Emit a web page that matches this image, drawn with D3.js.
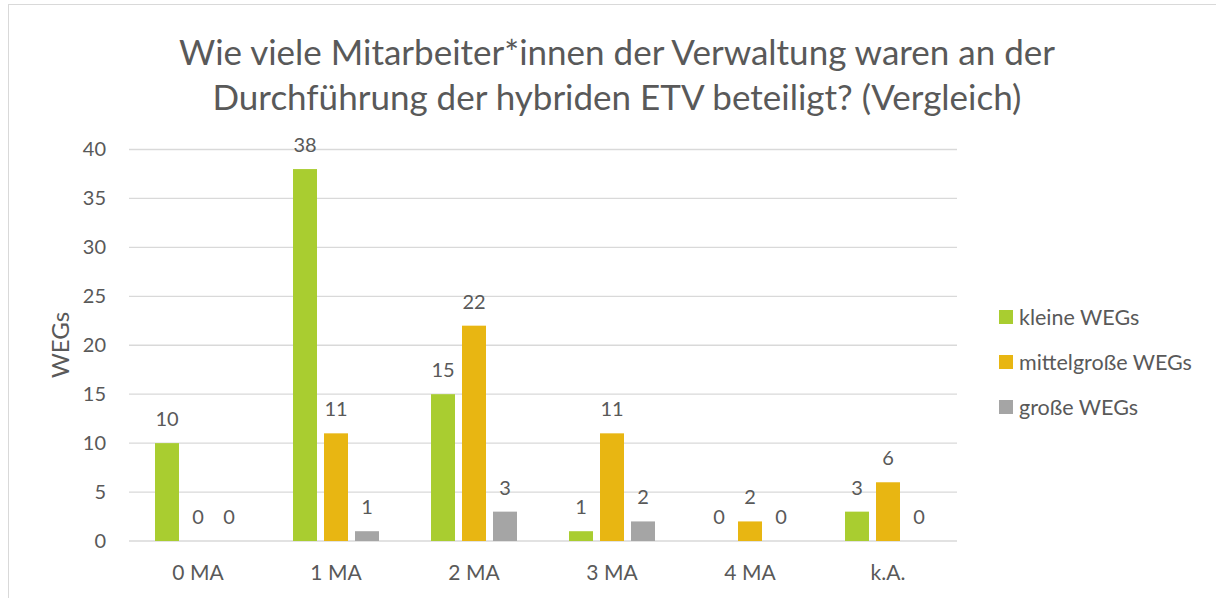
<!DOCTYPE html>
<html>
<head>
<meta charset="utf-8">
<script src="https://cdn.jsdelivr.net/npm/d3@7"></script>
<style>
  body { margin: 0; background: #fff; }
  text { font-family: Lato, "Open Sans", sans-serif; fill: #595959; }
</style>
</head>
<body>
<div id="chart"></div>
<script>
// chart data
var categories = ["0 MA", "1 MA", "2 MA", "3 MA", "4 MA", "k.A."];
var seriesNames = ["kleine WEGs", "mittelgroße WEGs", "große WEGs"];
var kleine = [10, 38, 15, 1, 0, 3];
var mittel = [0, 11, 22, 11, 2, 6];
var grosse = [0, 1, 3, 2, 0, 0];
var yTicks = [0, 5, 10, 15, 20, 25, 30, 35, 40];
var colors = ["#a9cd30", "#e8b612", "#a5a5a5"];

var svgWidth = 1216;
var svgHeight = 598;

// plot area
var chartMargin = { top: 149.5, right: 259, bottom: 57, left: 129 };
var chartWidth = svgWidth - chartMargin.left - chartMargin.right;
var chartHeight = svgHeight - chartMargin.top - chartMargin.bottom;

var svg = d3.select("#chart")
  .append("svg")
  .attr("width", svgWidth)
  .attr("height", svgHeight);

// chart area border
svg.append("rect")
  .attr("x", 8.5)
  .attr("y", 4.5)
  .attr("width", 1230)
  .attr("height", 620)
  .attr("fill", "none")
  .attr("stroke", "#d9d9d9");

// title
var title = svg.append("text")
  .attr("text-anchor", "middle")
  .attr("font-size", "35px");
title.append("tspan").attr("x", 617).attr("y", 64.5)
  .text("Wie viele Mitarbeiter*innen der Verwaltung waren an der");
title.append("tspan").attr("x", 617).attr("y", 109.5)
  .text("Durchführung der hybriden ETV beteiligt? (Vergleich)");

var chartGroup = svg.append("g")
  .attr("transform", `translate(${chartMargin.left}, ${chartMargin.top})`);

var xScale = d3.scaleBand()
  .domain(categories)
  .range([0, chartWidth])
  .paddingInner(0.377)
  .paddingOuter(0.1885);

var x1 = d3.scaleBand()
  .domain(d3.range(seriesNames.length))
  .range([0, xScale.bandwidth()])
  .paddingInner(0.226);

var yScale = d3.scaleLinear()
  .domain([0, 40])
  .range([chartHeight, 0]);

// gridlines
chartGroup.append("g")
  .selectAll("line")
  .data(yTicks)
  .enter()
  .append("line")
  .attr("x1", 0)
  .attr("x2", chartWidth)
  .attr("y1", d => yScale(d))
  .attr("y2", d => yScale(d))
  .attr("stroke", "#d9d9d9")
  .attr("stroke-width", 1.3);

// y axis labels
var leftAxis = d3.axisLeft(yScale).tickValues(yTicks).tickSize(0).tickPadding(23);
var yAxisG = chartGroup.append("g").call(leftAxis);
yAxisG.select(".domain").remove();
yAxisG.selectAll("text")
  .attr("font-size", "20px")
  .attr("font-family", null)
  .attr("fill", "#595959");

// x axis labels
var bottomAxis = d3.axisBottom(xScale).tickSize(0).tickPadding(24);
var xAxisG = chartGroup.append("g")
  .attr("transform", `translate(0, ${chartHeight})`)
  .call(bottomAxis);
xAxisG.select(".domain").remove();
xAxisG.selectAll("text")
  .attr("font-size", "21px")
  .attr("font-family", null)
  .attr("fill", "#595959");

// bars per category
var rows = categories.map(function(c, i) {
  return { cat: c, values: [kleine[i], mittel[i], grosse[i]] };
});

var groups = chartGroup.selectAll(".cat")
  .data(rows)
  .enter()
  .append("g")
  .attr("transform", d => `translate(${xScale(d.cat)}, 0)`);

groups.selectAll("rect")
  .data(d => d.values)
  .enter()
  .append("rect")
  .attr("x", (d, i) => x1(i))
  .attr("y", d => yScale(d))
  .attr("width", x1.bandwidth())
  .attr("height", d => chartHeight - yScale(d))
  .attr("fill", (d, i) => colors[i]);

// value labels
groups.selectAll(".val")
  .data(d => d.values)
  .enter()
  .append("text")
  .attr("x", (d, i) => x1(i) + x1.bandwidth() / 2)
  .attr("y", d => yScale(d) - 17)
  .attr("text-anchor", "middle")
  .attr("font-size", "20px")
  .text(d => d);

// y axis title
svg.append("text")
  .attr("transform", "translate(68.5, 345) rotate(-90)")
  .attr("text-anchor", "middle")
  .attr("font-size", "24px")
  .text("WEGs");

// legend
var legend = svg.append("g")
  .selectAll("g")
  .data(seriesNames)
  .enter()
  .append("g")
  .attr("transform", (d, i) => `translate(999, ${317 + i * 45})`);

legend.append("rect")
  .attr("x", 0)
  .attr("y", -7)
  .attr("width", 14)
  .attr("height", 14)
  .attr("fill", (d, i) => colors[i]);

legend.append("text")
  .attr("x", 20)
  .attr("y", 7.5)
  .attr("font-size", "21.5px")
  .text(d => d);
</script>
</body>
</html>
